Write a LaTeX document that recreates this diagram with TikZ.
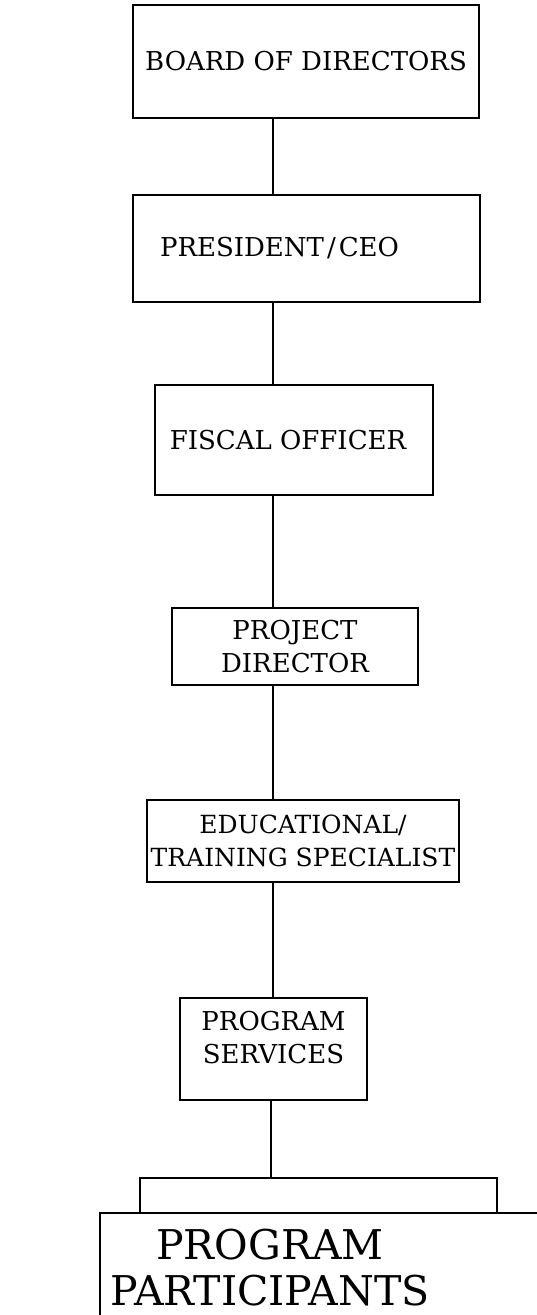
\documentclass[tikz,border=0pt]{standalone}
\usepackage{fontspec}
\setmainfont{DejaVu Serif}
\begin{document}
\begin{tikzpicture}[x=1pt,y=-1pt,
  line/.style={draw=black,line width=1.25pt},
  box/.style={line,rectangle,inner sep=0pt,align=center,font=\fontsize{26}{33}\selectfont},
  bigtext/.style={inner sep=0pt,align=center,font=\fontsize{41}{46}\selectfont}]
\useasboundingbox (0,0) rectangle (537,1315);
\clip (0,0) rectangle (537,1315);
\coordinate (spine) at (273,0);
\node[box,minimum width=346,minimum height=113] (bod) at (306,61.5) {BOARD OF DIRECTORS};
\node[box,minimum width=347,minimum height=107] (pres) at (306.5,248.5) {PRESIDENT\kern3pt/\kern3pt CEO\hspace*{54pt}};
\node[box,minimum width=278,minimum height=110] (fisc) at (294,440) {FISCAL OFFICER\hspace*{12pt}};
\node[box,minimum width=246,minimum height=77] (pd) at (295,646.5) {PROJECT\\DIRECTOR};
\node[box,minimum width=312,minimum height=82,font=\fontsize{25}{33}\selectfont] (edu) at (303,841) {EDUCATIONAL/\\TRAINING SPECIALIST};
\node[box,minimum width=187,minimum height=102] (svc) at (273.5,1049) {PROGRAM\\SERVICES\\[-9pt]\mbox{}};
\node[line,rectangle,minimum width=480,minimum height=140,inner sep=0pt] (pp) at (340,1283) {};
\node[bigtext] (pptxt) at (270,1268) {PROGRAM\\PARTICIPANTS};
\coordinate (brl) at (140,1178);
\coordinate (brr) at (497,1178);
\coordinate (brm) at (271,1178);
\draw[line] (spine |- bod.south) -- (spine |- pres.north);
\draw[line] (spine |- pres.south) -- (spine |- fisc.north);
\draw[line] (spine |- fisc.south) -- (spine |- pd.north);
\draw[line] (spine |- pd.south) -- (spine |- edu.north);
\draw[line] (spine |- edu.south) -- (spine |- svc.north);
\draw[line] (brm |- svc.south) -- (brm);
\draw[line] (brl |- pp.north) -- (brl) -- (brr) -- (brr |- pp.north);
\end{tikzpicture}
\end{document}
